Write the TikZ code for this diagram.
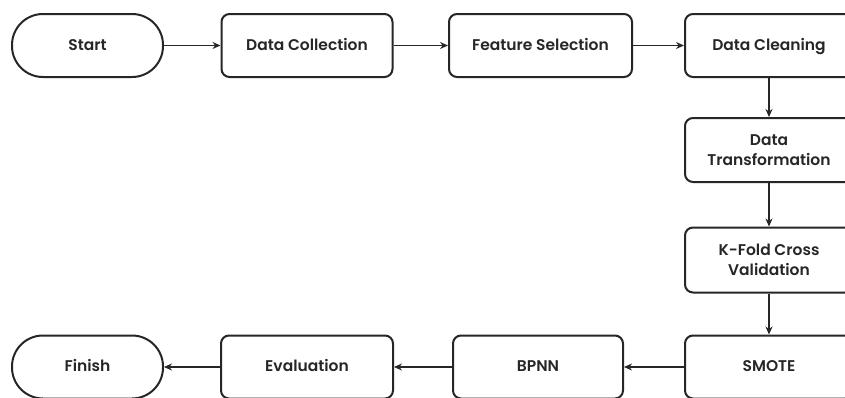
\documentclass[tikz,border=0pt]{standalone}
\usepackage{fontspec}
\setmainfont{Poppins SemiBold}
\usetikzlibrary{arrows.meta}
\begin{document}
\begin{tikzpicture}[x=1pt,y=-1pt,
  every node/.style={font=\fontsize{15.5}{20}\selectfont, text=black!85, align=center},
  one/.style={text height=1.05em, text depth=0.1em},
  box/.style={draw=black!85, line width=2pt, rounded corners=8pt, minimum height=63pt, inner sep=0pt},
  term/.style={draw=black!85, line width=2pt, rounded corners=31pt, minimum height=63pt, minimum width=151pt, inner sep=0pt},
  flow/.style={draw=black!85, line width=1.8pt, -{Stealth[length=8pt,width=7pt]}}]
\useasboundingbox (0,0) rectangle (845,397);
\fill[white] (0,0) rectangle (845,397);
\node[term, one] (start) at (87.5,45.5) {Start};
\node[box, one, minimum width=171pt] (dc) at (307,45.5) {Data Collection};
\node[box, one, minimum width=183pt] (fs) at (540.5,45.5) {Feature Selection};
\node[box, one, minimum width=168pt] (cl) at (769,45.5) {Data Cleaning};
\node[box, minimum width=168pt, minimum height=64pt] (dt) at (769,150) {Data\\Transformation};
\node[box, minimum width=168pt, minimum height=65pt] (kf) at (769,260) {K-Fold Cross\\Validation};
\node[box, one, minimum width=168pt] (sm) at (769,367) {SMOTE};
\node[box, one, minimum width=170pt] (bp) at (538,367) {BPNN};
\node[box, one, minimum width=172pt] (ev) at (307,367) {Evaluation};
\node[term, one] (fin) at (87.5,367) {Finish};
\draw[flow] (start) -- (dc);
\draw[flow] (dc) -- (fs);
\draw[flow] (fs) -- (cl);
\draw[flow] (cl) -- (dt);
\draw[flow] (dt) -- (kf);
\draw[flow] (kf) -- (sm);
\draw[flow] (sm) -- (bp);
\draw[flow] (bp) -- (ev);
\draw[flow] (ev) -- (fin);
\end{tikzpicture}
\end{document}
